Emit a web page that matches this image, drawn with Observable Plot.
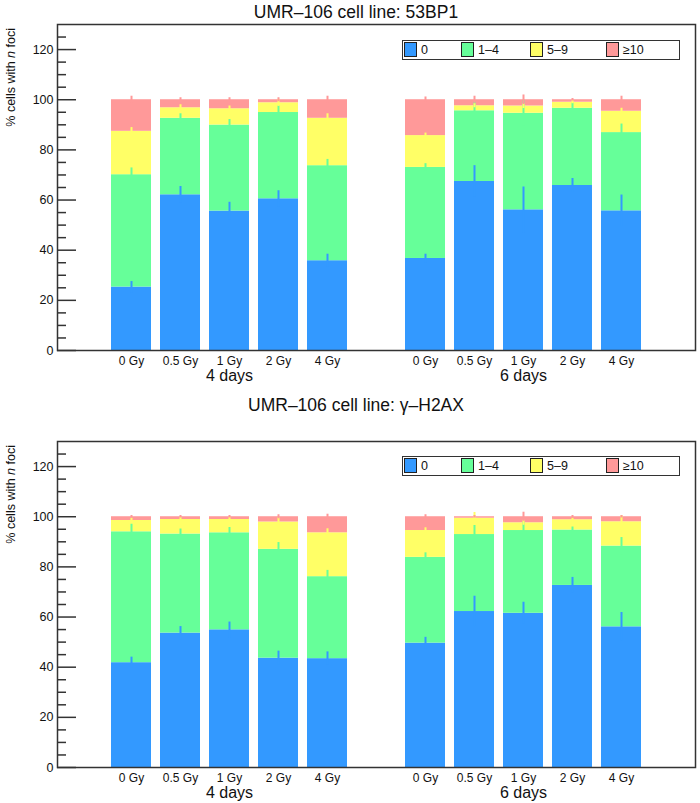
<!DOCTYPE html>
<html><head><meta charset="utf-8">
<script src="https://cdn.jsdelivr.net/npm/d3@7"></script>
<script src="https://cdn.jsdelivr.net/npm/@observablehq/plot@0.6"></script>
<style>
html,body{margin:0;padding:0;overflow:hidden;background:#fff;width:700px;height:803px;}
.panel{position:absolute;left:0;width:700px;}
.title{position:absolute;left:6px;width:700px;text-align:center;font:17.5px "Liberation Sans",Arial,sans-serif;line-height:17px;color:#111;}
.legend{position:absolute;left:402px;width:278px;height:20px;border:1.5px solid #333;box-sizing:border-box;font:12.5px "Liberation Sans",Arial,sans-serif;color:#111;background:#fff;}
.item{position:absolute;top:0;height:17px;display:flex;align-items:center;}
.sw{width:13px;height:15px;border:1px solid #222;box-sizing:border-box;margin-right:4px;}
</style></head><body>
<div class="title" style="top:4px">UMR–106 cell line: 53BP1</div>
<div id="p1" class="panel" style="top:0px"></div>
<div class="title" style="top:397px">UMR–106 cell line: γ–H2AX</div>
<div id="p2" class="panel" style="top:417px"></div>
<script>
// ---- categories / labels ----
const doses = ["0 Gy", "0.5 Gy", "1 Gy", "2 Gy", "4 Gy"];
const dayGroups = ["4 days", "6 days"];
const categories = ["0", "1–4", "5–9", "≥10"];
const colors = ["#3399ff", "#66ff99", "#ffff66", "#ff9999"];
const yMajorTicks = [0, 20, 40, 60, 80, 100, 120];
const yMinorTicks = [5, 10, 15, 25, 30, 35, 45, 50, 55, 65, 70, 75, 85, 90, 95, 105, 110, 115, 125];

// ---- 53BP1 (first 5 = 4 days, last 5 = 6 days) ----
const bp1_n0    = [25.3, 62.1, 55.6, 60.5, 35.8, 36.7, 67.4, 56.1, 65.8, 55.7];
const bp1_n1to4 = [44.8, 30.5, 34.3, 34.4, 37.9, 36.3, 28.2, 38.5, 30.8, 31.2];
const bp1_n5to9 = [17.3, 4.2, 6.5, 3.9, 18.9, 12.7, 2.0, 2.9, 2.4, 8.5];
const bp1_n10   = [12.6, 3.2, 3.6, 1.2, 7.4, 14.3, 2.4, 2.5, 1.0, 4.6];
const bp1_e0    = [2.2, 3.3, 3.5, 3.2, 2.6, 1.7, 6.3, 9.1, 2.8, 6.3];
const bp1_e1to4 = [2.7, 1.8, 2.2, 2.6, 2.5, 1.5, 3.5, 5.2, 2.1, 3.4];
const bp1_e5to9 = [1.5, 1.2, 1.1, 1.4, 1.8, 1.0, 0.8, 1.0, 0.6, 1.2];
const bp1_e10   = [1.4, 0.8, 0.8, 0.8, 1.4, 1.1, 1.4, 1.9, 0.5, 1.4];

// ---- γ-H2AX ----
const h2ax_n0    = [41.8, 53.6, 54.9, 43.6, 43.4, 49.6, 62.2, 61.5, 72.6, 56.1];
const h2ax_n1to4 = [52.2, 39.5, 38.7, 43.4, 32.7, 34.2, 30.7, 33.0, 22.1, 32.2];
const h2ax_n5to9 = [4.5, 5.8, 5.3, 10.9, 17.5, 10.7, 6.5, 3.1, 4.1, 9.7];
const h2ax_n10   = [1.5, 1.1, 1.1, 2.1, 6.4, 5.5, 0.6, 2.4, 1.2, 2.0];
const h2ax_e0    = [2.2, 2.6, 3.1, 2.8, 2.7, 2.3, 6.1, 4.4, 3.2, 5.7];
const h2ax_e1to4 = [3.0, 2.0, 2.1, 2.7, 2.5, 1.8, 3.6, 3.4, 1.2, 3.4];
const h2ax_e5to9 = [0.9, 0.8, 0.8, 1.8, 1.6, 1.1, 2.3, 1.0, 0.6, 2.5];
const h2ax_e10   = [0.5, 0.5, 0.5, 0.8, 1.0, 0.8, 0.5, 1.8, 0.5, 0.5];

// slot domain: empty slot, 4-day bars, empty gap, 6-day bars, empty slot
const key = (day, dose) => `${day}|${dose}`;
const slots = ["pre", ...doses.map(d => key(dayGroups[0], d)), "gap", ...doses.map(d => key(dayGroups[1], d)), "post"];
const groupLabels = dayGroups.map(day => ({slot: key(day, doses[2]), label: day}));

function buildPanel(el, vals, errs, legendTop) {
  const rows = [];
  dayGroups.forEach((day, g) => doses.forEach((dose, d) => {
    const i = g * doses.length + d;
    let cum = 0;
    categories.forEach((cat, c) => {
      const v = vals[c][i];
      rows.push({slot: key(day, dose), cat, y1: cum, y2: cum + v, err: errs[c][i]});
      cum += v;
    });
  }));
  const W = 700, ML = 57, MR = 5;
  const innerW = W - ML - MR;
  const plot = Plot.plot({
    width: W, height: 400, marginTop: 24, marginLeft: ML, marginRight: MR, marginBottom: 50,
    style: {fontFamily: '"Liberation Sans", Arial, sans-serif', color: "#111", background: "transparent", overflow: "visible"},
    x: {type: "band", domain: slots, paddingInner: 0.19, paddingOuter: 0.095, label: null},
    y: {domain: [0, 130], label: null},
    color: {domain: categories, range: colors},
    marks: [
      Plot.barY(rows, {x: "slot", y1: "y1", y2: "y2", fill: "cat"}),
      Plot.ruleX(rows, {x: "slot", y1: d => d.y2 - d.err, y2: d => d.y2 + d.err, stroke: "cat", strokeWidth: 2}),
      Plot.tickY(yMajorTicks, {y: d => d, stroke: "#333", strokeWidth: 1.5, insetRight: innerW - 19}),
      Plot.tickY(yMinorTicks, {y: d => d, stroke: "#333", strokeWidth: 1.5, insetRight: innerW - 9}),
      Plot.axisY({ticks: yMajorTicks, tickSize: 0, tickPadding: 4, fontSize: 12.5, label: null}),
      Plot.axisX({tickSize: 0, tickPadding: 6, fontSize: 12, label: null,
                  tickFormat: s => (s.includes("|") ? s.split("|")[1] : "")}),
      Plot.text(groupLabels, {x: "slot", text: "label", frameAnchor: "bottom", dy: 30.5, fontSize: 16}),
      Plot.frame({stroke: "#333", strokeWidth: 1.5})
    ]
  });
  // y-axis title with italic n
  const t = d3.select(plot).append("text")
    .attr("transform", "translate(15,28) rotate(-90)")
    .attr("text-anchor", "end")
    .attr("font-size", 12.5)
    .attr("fill", "#111");
  t.append("tspan").text("% cells with ");
  t.append("tspan").attr("font-style", "italic").text("n");
  t.append("tspan").text(" foci");
  el.appendChild(plot);

  // legend
  const lg = document.createElement("div");
  lg.className = "legend";
  lg.style.top = legendTop + "px";
  const offs = [1, 58, 127, 203];
  categories.forEach((cat, c) => {
    const it = document.createElement("div");
    it.className = "item";
    it.style.left = offs[c] + "px";
    const sw = document.createElement("div");
    sw.className = "sw";
    sw.style.background = colors[c];
    const lb = document.createElement("span");
    lb.textContent = cat;
    it.appendChild(sw); it.appendChild(lb);
    lg.appendChild(it);
  });
  el.appendChild(lg);
}

buildPanel(document.getElementById("p1"),
  [bp1_n0, bp1_n1to4, bp1_n5to9, bp1_n10], [bp1_e0, bp1_e1to4, bp1_e5to9, bp1_e10], 40);
buildPanel(document.getElementById("p2"),
  [h2ax_n0, h2ax_n1to4, h2ax_n5to9, h2ax_n10], [h2ax_e0, h2ax_e1to4, h2ax_e5to9, h2ax_e10], 39);
</script>
</body></html>
